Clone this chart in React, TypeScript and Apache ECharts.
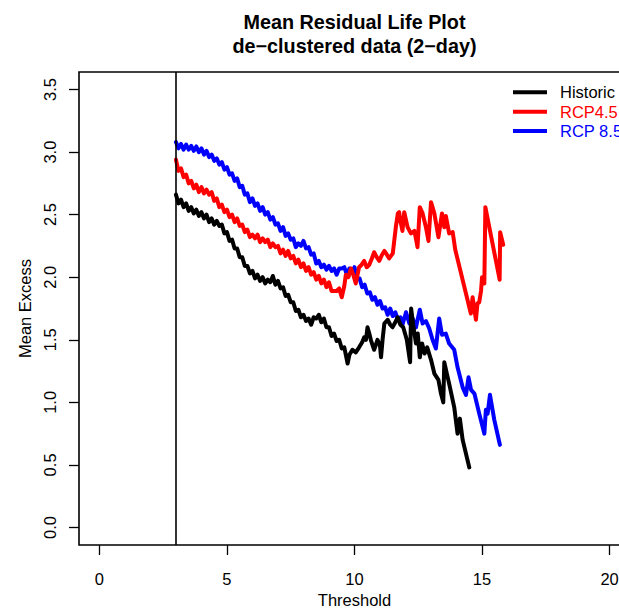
import React, { useEffect, useRef } from "react";
import * as echarts from "echarts";

const titleMain = "Mean Residual Life Plot";
const titleSub = "de\u2212clustered data (2\u2212day)";
const xName = "Threshold";
const yName = "Mean Excess";
const seriesNames = ["Historic", "RCP4.5", "RCP 8.5"];
const seriesColors = ["#000000", "#FF0000", "#0000FF"];
const xTicks = [0, 5, 10, 15, 20];
const yTicks = [0, 0.5, 1, 1.5, 2, 2.5, 3, 3.5];
const clusterThreshold = 3;

const histX = [3.0, 3.1, 3.2, 3.3, 3.4, 3.5, 3.6, 3.7, 3.8, 3.9, 4.0, 4.1, 4.2, 4.3, 4.4, 4.5, 4.6, 4.7, 4.8, 4.9, 5.0, 5.1, 5.2, 5.3, 5.4, 5.5, 5.6, 5.7, 5.8, 5.9, 6.0, 6.1, 6.2, 6.3, 6.4, 6.5, 6.6, 6.7, 6.8, 6.9, 7.0, 7.1, 7.2, 7.3, 7.4, 7.5, 7.6, 7.7, 7.8, 7.9, 8.0, 8.1, 8.2, 8.3, 8.4, 8.5, 8.6, 8.7, 8.8, 8.9, 9.0, 9.1, 9.2, 9.3, 9.4, 9.5, 9.6, 9.68, 9.73, 9.8, 9.92, 10.05, 10.18, 10.3, 10.38, 10.45, 10.51, 10.58, 10.64, 10.72, 10.77, 10.9, 11.0, 11.04, 11.1, 11.17, 11.3, 11.4, 11.49, 11.6, 11.69, 11.8, 11.91, 12.05, 12.18, 12.22, 12.3, 12.41, 12.48, 12.56, 12.65, 12.75, 12.85, 13.0, 13.13, 13.29, 13.39, 13.48, 13.52, 13.62, 13.71, 13.91, 14.04, 14.13, 14.24, 14.5];
const histY = [2.66, 2.59, 2.62, 2.56, 2.59, 2.53, 2.56, 2.51, 2.54, 2.49, 2.52, 2.47, 2.5, 2.44, 2.47, 2.42, 2.45, 2.41, 2.42, 2.35, 2.36, 2.29, 2.3, 2.23, 2.23, 2.16, 2.16, 2.09, 2.09, 2.03, 2.05, 1.99, 2.02, 1.97, 2.0, 1.95, 1.98, 1.96, 2.01, 1.94, 1.97, 1.91, 1.92, 1.85, 1.86, 1.8, 1.8, 1.73, 1.74, 1.68, 1.7, 1.65, 1.67, 1.62, 1.68, 1.67, 1.7, 1.64, 1.67, 1.6, 1.6, 1.53, 1.55, 1.49, 1.5, 1.43, 1.44, 1.36, 1.31, 1.38, 1.42, 1.4, 1.44, 1.48, 1.52, 1.5, 1.6, 1.55, 1.5, 1.45, 1.42, 1.5, 1.45, 1.36, 1.5, 1.63, 1.66, 1.62, 1.6, 1.64, 1.68, 1.62, 1.6, 1.5, 1.32, 1.75, 1.62, 1.47, 1.55, 1.36, 1.47, 1.39, 1.44, 1.34, 1.23, 1.18, 1.07, 1.0, 1.32, 1.23, 1.15, 0.96, 0.75, 0.87, 0.7, 0.48];

const rcp45X = [3.0, 3.1, 3.2, 3.3, 3.4, 3.5, 3.6, 3.7, 3.8, 3.9, 4.0, 4.1, 4.2, 4.3, 4.4, 4.5, 4.6, 4.7, 4.8, 4.9, 5.0, 5.1, 5.2, 5.3, 5.4, 5.5, 5.6, 5.7, 5.8, 5.9, 6.0, 6.1, 6.2, 6.3, 6.4, 6.5, 6.6, 6.7, 6.8, 6.9, 7.0, 7.1, 7.2, 7.3, 7.4, 7.5, 7.6, 7.7, 7.8, 7.9, 8.0, 8.1, 8.2, 8.3, 8.4, 8.5, 8.6, 8.7, 8.8, 8.9, 9.0, 9.1, 9.2, 9.3, 9.4, 9.5, 9.6, 9.66, 9.76, 9.86, 9.95, 10.05, 10.18, 10.28, 10.38, 10.48, 10.58, 10.68, 10.77, 10.87, 10.97, 11.08, 11.17, 11.27, 11.36, 11.5, 11.62, 11.7, 11.75, 11.8, 11.88, 11.95, 12.08, 12.21, 12.35, 12.47, 12.56, 12.67, 12.8, 12.9, 13.0, 13.13, 13.29, 13.43, 13.52, 13.58, 13.71, 13.85, 13.95, 14.56, 14.63, 14.76, 14.82, 14.89, 14.96, 15.0, 15.09, 15.13, 15.69, 15.71, 15.83];
const rcp45Y = [2.94, 2.85, 2.87, 2.8, 2.82, 2.75, 2.77, 2.71, 2.74, 2.68, 2.72, 2.67, 2.7, 2.66, 2.68, 2.61, 2.63, 2.56, 2.58, 2.52, 2.54, 2.48, 2.5, 2.44, 2.47, 2.41, 2.42, 2.36, 2.38, 2.32, 2.34, 2.31, 2.34, 2.28, 2.31, 2.28, 2.3, 2.24, 2.27, 2.24, 2.25, 2.19, 2.22, 2.17, 2.21, 2.15, 2.17, 2.11, 2.14, 2.08, 2.11, 2.05, 2.08, 2.02, 2.04, 1.98, 2.01, 1.95, 1.98, 1.92, 1.96, 1.89, 1.89, 1.89, 1.91, 1.84, 1.93, 2.02, 2.0, 2.07, 2.02, 1.95, 2.08, 2.1, 2.13, 2.08, 2.1, 2.15, 2.2, 2.16, 2.13, 2.18, 2.21, 2.18, 2.15, 2.19, 2.4, 2.51, 2.52, 2.45, 2.37, 2.52, 2.4, 2.35, 2.37, 2.24, 2.56, 2.51, 2.4, 2.29, 2.6, 2.51, 2.32, 2.51, 2.4, 2.49, 2.35, 2.36, 2.22, 1.71, 1.84, 1.66, 1.79, 1.8, 1.89, 2.0, 1.95, 2.56, 1.98, 2.36, 2.26];

const rcp85X = [3.0, 3.1, 3.2, 3.3, 3.4, 3.5, 3.6, 3.7, 3.8, 3.9, 4.0, 4.1, 4.2, 4.3, 4.4, 4.5, 4.6, 4.7, 4.8, 4.9, 5.0, 5.1, 5.2, 5.3, 5.4, 5.5, 5.6, 5.7, 5.8, 5.9, 6.0, 6.1, 6.2, 6.3, 6.4, 6.5, 6.6, 6.7, 6.8, 6.9, 7.0, 7.1, 7.2, 7.3, 7.4, 7.5, 7.6, 7.7, 7.8, 7.9, 8.0, 8.1, 8.2, 8.3, 8.4, 8.5, 8.6, 8.7, 8.8, 8.9, 9.0, 9.1, 9.2, 9.3, 9.4, 9.5, 9.6, 9.7, 9.8, 9.9, 10.0, 10.1, 10.2, 10.3, 10.4, 10.5, 10.6, 10.7, 10.8, 10.9, 11.0, 11.1, 11.2, 11.3, 11.4, 11.5, 11.6, 11.7, 11.8, 11.88, 12.02, 12.15, 12.28, 12.41, 12.56, 12.67, 12.8, 12.93, 13.06, 13.19, 13.32, 13.43, 13.58, 13.71, 13.91, 14.04, 14.24, 14.37, 14.47, 14.57, 14.7, 14.89, 15.09, 15.15, 15.22, 15.31, 15.48, 15.7];
const rcp85Y = [3.08, 3.03, 3.065, 3.02, 3.06, 3.02, 3.05, 3.01, 3.045, 3.0, 3.03, 2.98, 3.01, 2.96, 2.98, 2.93, 2.95, 2.9, 2.92, 2.86, 2.88, 2.82, 2.83, 2.77, 2.79, 2.72, 2.73, 2.66, 2.67, 2.6, 2.63, 2.57, 2.59, 2.53, 2.56, 2.5, 2.52, 2.46, 2.48, 2.42, 2.43, 2.37, 2.4, 2.33, 2.35, 2.3, 2.31, 2.24, 2.27, 2.25, 2.29, 2.23, 2.24, 2.18, 2.19, 2.11, 2.13, 2.08, 2.1, 2.06, 2.09, 2.05, 2.07, 2.02, 2.07, 2.07, 2.08, 2.02, 2.07, 2.04, 2.08, 1.99, 1.99, 1.92, 1.94, 1.87, 1.88, 1.82, 1.84, 1.78, 1.81, 1.75, 1.76, 1.7, 1.75, 1.69, 1.72, 1.66, 1.68, 1.62, 1.72, 1.63, 1.67, 1.6, 1.74, 1.63, 1.65, 1.59, 1.5, 1.43, 1.67, 1.54, 1.55, 1.47, 1.42, 1.28, 1.12, 1.06, 1.2, 1.1, 1.07, 0.91, 0.75, 0.94, 0.91, 1.06, 0.86, 0.66];

const zip = (xs: number[], ys: number[]) => xs.map((x, i) => [x, ys[i]]);

const FONT = "'Liberation Sans', Arial, Helvetica, sans-serif";
const FS = 16.5;

export default function App() {
  const ref = useRef<HTMLDivElement>(null);
  useEffect(() => {
    if (!ref.current) return;
    const chart = echarts.init(ref.current, null, { renderer: "svg" });
    const lineSeries = (name: string, color: string, data: number[][], extra: any = {}) => ({
      name,
      type: "line",
      data,
      showSymbol: false,
      symbol: "none",
      color,
      clip: true,
      lineStyle: { color, width: 4, cap: "round", join: "round" },
      ...extra,
    });
    chart.setOption({
      animation: false,
      backgroundColor: "#ffffff",
      textStyle: { fontFamily: FONT },
      graphic: [
        {
          type: "text",
          x: 354.5,
          y: 22,
          style: { text: titleMain, font: `bold 19.8px ${FONT}`, fill: "#000", textAlign: "center", textVerticalAlign: "middle" },
        },
        {
          type: "text",
          x: 354.5,
          y: 46,
          style: { text: titleSub, font: `bold 19.8px ${FONT}`, fill: "#000", textAlign: "center", textVerticalAlign: "middle" },
        },
      ],
      grid: {
        left: 79,
        top: 72,
        width: 551,
        height: 473,
        outerBoundsMode: "none",
        containLabel: false,
        show: true,
        borderColor: "#000",
        borderWidth: 1.6,
        backgroundColor: "transparent",
      },
      legend: {
        orient: "vertical",
        left: 508,
        top: 77.6,
        itemWidth: 34,
        itemHeight: 4,
        itemGap: 0,
        icon: "rect",
        selectedMode: false,
        textStyle: { fontFamily: FONT, fontSize: FS, lineHeight: 19.4, padding: [0, 0, 0, 8] },
        data: seriesNames.map((n, i) => ({ name: n, icon: "rect", itemStyle: { color: seriesColors[i] }, textStyle: { color: seriesColors[i] } })),
      },
      xAxis: {
        type: "value",
        min: -0.8,
        max: 20.8,
        name: xName,
        nameLocation: "middle",
        nameGap: 46,
        nameTextStyle: { fontFamily: FONT, fontSize: FS, color: "#000" },
        axisLine: { show: false, onZero: false },
        splitLine: { show: false },
        axisTick: { show: true, length: 10, customValues: xTicks, lineStyle: { color: "#000", width: 1.3 } },
        axisLabel: { customValues: xTicks, margin: 25, fontFamily: FONT, fontSize: FS, color: "#000" },
      },
      yAxis: {
        type: "value",
        min: -0.14,
        max: 3.64,
        name: yName,
        nameLocation: "middle",
        nameGap: 42,
        nameRotate: 90,
        nameTextStyle: { fontFamily: FONT, fontSize: FS, color: "#000" },
        axisLine: { show: false, onZero: false },
        splitLine: { show: false },
        axisTick: { show: true, length: 10, customValues: yTicks, lineStyle: { color: "#000", width: 1.3 } },
        axisLabel: {
          customValues: yTicks,
          rotate: 90,
          margin: 21,
          fontFamily: FONT,
          fontSize: FS,
          color: "#000",
          formatter: (v: number) => v.toFixed(1),
        },
      },
      series: [
        lineSeries(seriesNames[2], seriesColors[2], zip(rcp85X, rcp85Y)),
        lineSeries(seriesNames[1], seriesColors[1], zip(rcp45X, rcp45Y)),
        lineSeries(seriesNames[0], seriesColors[0], zip(histX, histY), {
          markLine: {
            silent: true,
            symbol: "none",
            label: { show: false },
            lineStyle: { color: "#000", width: 1.6, type: "solid" },
            data: [{ xAxis: clusterThreshold }],
          },
        }),
      ],
    });
    return () => chart.dispose();
  }, []);
  return <div ref={ref} style={{ position: "fixed", left: 0, top: 0, width: 619, height: 609 }} />;
}
